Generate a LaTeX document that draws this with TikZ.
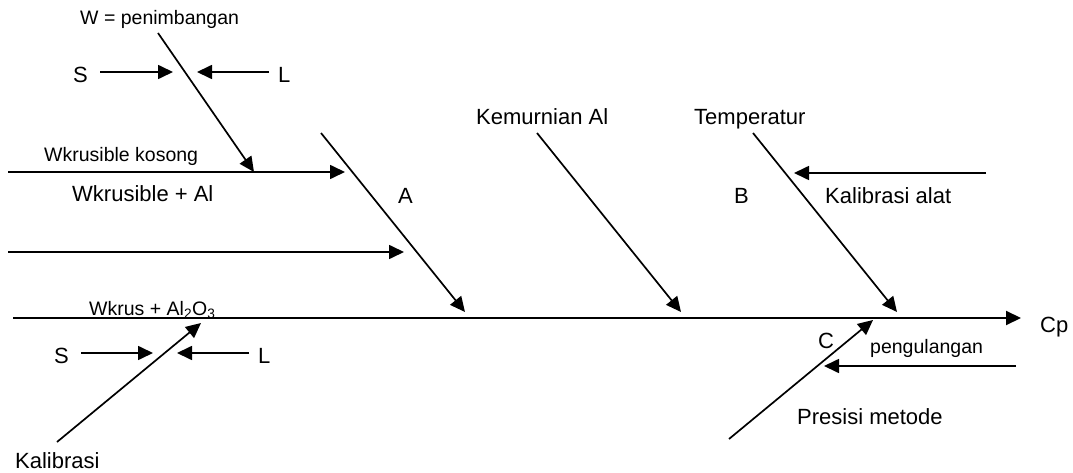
\documentclass[tikz,border=0pt]{standalone}
\usepackage{fontspec}
\setmainfont{Liberation Sans}
\usetikzlibrary{arrows.meta}

\begin{document}
\begin{tikzpicture}[x=1pt,y=-1pt,
	big/.style={anchor=base west,inner sep=0,font=\fontsize{22}{24}\selectfont},
	small/.style={anchor=base west,inner sep=0,font=\fontsize{19.5}{21}\selectfont},
	bone/.style={line width=1.7pt,-{Triangle[length=15pt,width=14pt]}}]

\useasboundingbox (0,0) rectangle (1073,473);

%spine
\coordinate (m0) at (13,318);
\coordinate (m1) at (1021,318);
\draw (m0) edge[bone,line width=2pt] (m1);
\node[big] (cp) at (1040,332) {Cp};

%A side
\coordinate (a0) at (321,133);
\coordinate (a1) at (465,312);
\draw (a0) edge[bone] (a1);
\node[big] (la) at (398,204) {A};

\coordinate (h1s) at (8,172);
\coordinate (h1e) at (345,172);
\draw (h1s) edge[bone] (h1e);
\node[small] (wk) at (44,162) {Wkrusible kosong};
\node[big] (wka) at (72,201) {Wkrusible + Al};

\coordinate (h2s) at (8,252);
\coordinate (h2e) at (404,252);
\draw (h2s) edge[bone] (h2e);

% penimbangan
\node[small] (w) at (80,25) {W = penimbangan};
\coordinate (w0) at (158,33);
\coordinate (w1) at (254,172);
\draw (w0) edge[bone] (w1);

\node[big] (s1) at (73,83) {S};
\node[big] (l1) at (278,83) {L};
\coordinate (s1a) at (100,72);
\coordinate (s1b) at (173,72);
\coordinate (l1a) at (269,72);
\coordinate (l1b) at (197,72);
\draw (s1a) edge[bone] (s1b);
\draw (l1a) edge[bone] (l1b);

% Wkrus + Al2O3
\node[small] (wo) at (89,315) {Wkrus + Al\textsubscript{2}O\textsubscript{3}};
\node[big] (kal) at (15,468) {Kalibrasi};
\coordinate (k0) at (57,442);
\coordinate (k1) at (201,323);
\draw (k0) edge[bone] (k1);

\node[big] (s2) at (54,363) {S};
\node[big] (l2) at (258,363) {L};
\coordinate (s2a) at (81,353);
\coordinate (s2b) at (153,353);
\coordinate (l2a) at (249,353);
\coordinate (l2b) at (177,353);
\draw (s2a) edge[bone] (s2b);
\draw (l2a) edge[bone] (l2b);

%Kemurnian
\node[big] (km) at (476,125) {Kemurnian Al};
\coordinate (km0) at (537,133);
\coordinate (km1) at (681,312);
\draw (km0) edge[bone] (km1);

%B side
\node[big] (tp) at (694,125) {Temperatur};
\node[big] (lb) at (734,204) {B};
\coordinate (t0) at (753,133);
\coordinate (t1) at (897,312);
\draw (t0) edge[bone] (t1);

\node[big] (ka) at (825,204) {Kalibrasi alat};
\coordinate (ka0) at (986,173);
\coordinate (ka1) at (794,173);
\draw (ka0) edge[bone] (ka1);

%C side
\node[big] (lc) at (818,348) {C};
\node[big] (pm) at (797,424) {Presisi metode};
\coordinate (p0) at (729,439);
\coordinate (p1) at (873,320);
\draw (p0) edge[bone] (p1);

\node[small] (pg) at (870,353) {pengulangan};
\coordinate (pg0) at (1016,366);
\coordinate (pg1) at (824,366);
\draw (pg0) edge[bone] (pg1);

\end{tikzpicture}
\end{document}
